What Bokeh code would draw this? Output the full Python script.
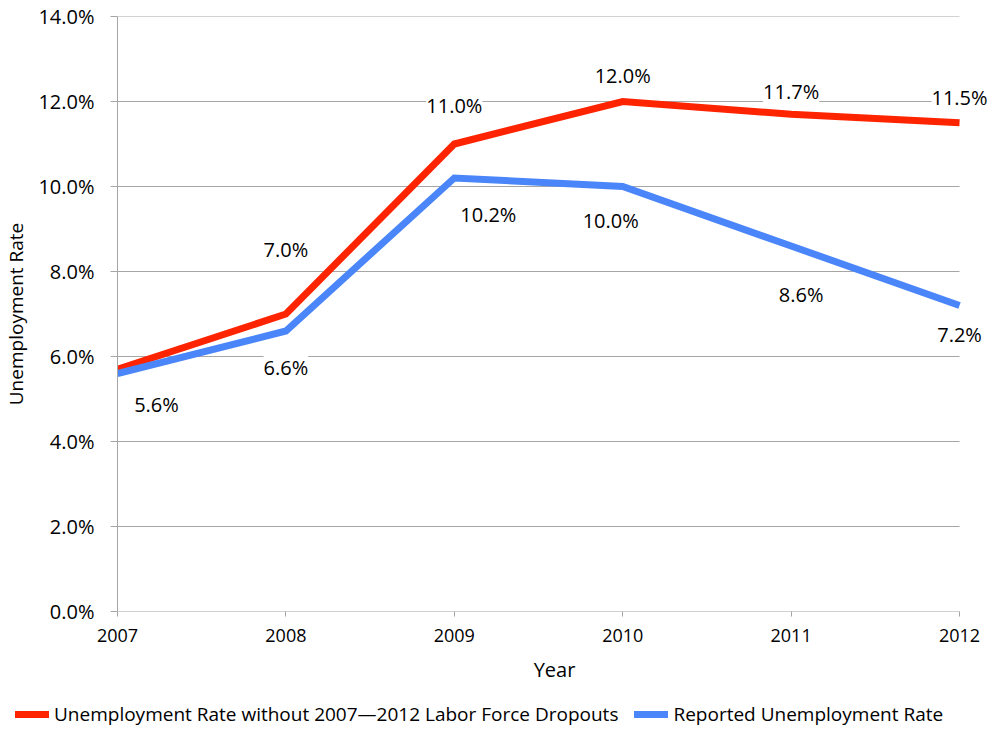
from bokeh.plotting import figure
from bokeh.models import (ColumnDataSource, Range1d, FixedTicker, PrintfTickFormatter,
                          LabelSet, Legend, LegendItem)
from bokeh.core.properties import value
from bokeh.embed import file_html
from bokeh.resources import INLINE

# Data
years = [2007, 2008, 2009, 2010, 2011, 2012]
without_dropouts = [5.7, 7.0, 11.0, 12.0, 11.7, 11.5]
reported = [5.6, 6.6, 10.2, 10.0, 8.6, 7.2]
y_ticks = [0, 2, 4, 6, 8, 10, 12, 14]
series_names = ["Unemployment Rate without 2007\u20142012 Labor Force Dropouts",
                "Reported Unemployment Rate"]

# Label placement (screen pixels) for the value annotations
red_labels_shown = [False, True, True, True, True, True]
red_dx = [0, 0, 0, 0, 0, 0]
red_dy = [0, 65, 39, 26, 23, 25]
blue_dx = [39, 0, 34, -12, 10, 0]
blue_dy = [-31, -36, -36, -34, -48, -29]

RED = "#FF2400"
BLUE = "#4A86FA"
GRID = "#A6A6A6"
FONT = "Open Sans"
INK = "black"

# Plot area spans 2007..2012 over 843 px; a little room is left on the right
# so the end-of-line value labels are not clipped.
right_pad = (years[-1] - years[0]) * 32 / 843

p = figure(width=991, height=698, output_backend="svg", toolbar_location=None,
           x_range=Range1d(years[0], years[-1] + right_pad), y_range=Range1d(0, 14),
           min_border_left=116, min_border_right=0, min_border_top=16,
           min_border_bottom=87)
p.outline_line_color = None
p.background_fill_color = "white"
p.border_fill_color = "white"

# Axes
p.xaxis.ticker = FixedTicker(ticks=years)
p.xaxis.minor_tick_line_color = None
p.xaxis.major_tick_in = 0
p.xaxis.major_tick_out = 5
p.xaxis.axis_line_color = None
p.xaxis.major_tick_line_color = GRID
p.xaxis.major_label_text_font = FONT
p.xaxis.major_label_text_font_size = "18px"
p.xaxis.major_label_text_color = INK
p.xaxis.major_label_standoff = 12
p.xaxis.axis_label = "Year"
p.xaxis.axis_label_text_font = FONT
p.xaxis.axis_label_text_font_size = "20px"
p.xaxis.axis_label_text_font_style = "normal"
p.xaxis.axis_label_text_color = INK
p.xaxis.axis_label_standoff = 11

p.yaxis.ticker = FixedTicker(ticks=y_ticks)
p.yaxis.formatter = PrintfTickFormatter(format="%.1f%%")
p.yaxis.minor_tick_line_color = None
p.yaxis.major_tick_in = 0
p.yaxis.major_tick_out = 7
p.yaxis.axis_line_color = GRID
p.yaxis.major_tick_line_color = GRID
p.yaxis.major_label_text_font = FONT
p.yaxis.major_label_text_font_size = "20px"
p.yaxis.major_label_text_color = INK
p.yaxis.major_label_standoff = 16
p.yaxis.axis_label = "Unemployment Rate"
p.yaxis.axis_label_text_font = FONT
p.yaxis.axis_label_text_font_size = "19px"
p.yaxis.axis_label_text_font_style = "normal"
p.yaxis.axis_label_text_color = INK
p.yaxis.axis_label_standoff = 6

# Horizontal gridlines across the category span only
p.xgrid.grid_line_color = None
p.ygrid.grid_line_color = None
p.segment(x0=[years[0]] * len(y_ticks), x1=[years[-1]] * len(y_ticks),
          y0=y_ticks, y1=y_ticks, line_color=GRID, line_width=1)

# Lines
p.line(years, without_dropouts, line_color=RED, line_width=7, line_join="miter")
p.line(years, reported, line_color=BLUE, line_width=7, line_join="miter")

red_src = ColumnDataSource(dict(
    x=[y for y, s in zip(years, red_labels_shown) if s],
    y=[v for v, s in zip(without_dropouts, red_labels_shown) if s],
    text=["%.1f%%" % v for v, s in zip(without_dropouts, red_labels_shown) if s],
    dx=[d for d, s in zip(red_dx, red_labels_shown) if s],
    dy=[d for d, s in zip(red_dy, red_labels_shown) if s],
))
blue_src = ColumnDataSource(dict(
    x=years, y=reported, text=["%.1f%%" % v for v in reported],
    dx=blue_dx, dy=blue_dy,
))

for src in (red_src, blue_src):
    p.add_layout(LabelSet(source=src, x="x", y="y", text="text",
                          x_offset="dx", y_offset="dy",
                          text_align="center", text_baseline="middle",
                          text_font=value(FONT), text_font_size=value("20px"),
                          text_color=INK,
                          background_fill_color="white",
                          border_line_color=None))

# Legend strip underneath the chart; its key lines lie outside the strip's view
lg = figure(width=991, height=32, output_backend="svg", toolbar_location=None,
            x_range=Range1d(0, 1), y_range=Range1d(0, 1),
            x_axis_location=None, y_axis_location=None,
            min_border=0, min_border_left=0, min_border_right=0)
lg.outline_line_color = None
lg.xgrid.grid_line_color = None
lg.ygrid.grid_line_color = None
lr = lg.line([-2, -1], [0, 0], line_color=RED, line_width=7, line_cap="round")
lb = lg.line([-2, -1], [0, 0], line_color=BLUE, line_width=7, line_cap="round")
legend = Legend(items=[LegendItem(label=series_names[0], renderers=[lr]),
                       LegendItem(label=series_names[1], renderers=[lb])],
                orientation="horizontal", location=(15, 3),
                label_text_font=FONT, label_text_font_size="19px",
                label_text_color=INK,
                glyph_width=34, label_standoff=5, spacing=16, padding=0, margin=0,
                border_line_color=None, background_fill_alpha=0)
lg.add_layout(legend, "center")

# Two independent roots stacked on the page: chart, then legend strip
open("out.html", "w").write(file_html([p, lg], INLINE))
